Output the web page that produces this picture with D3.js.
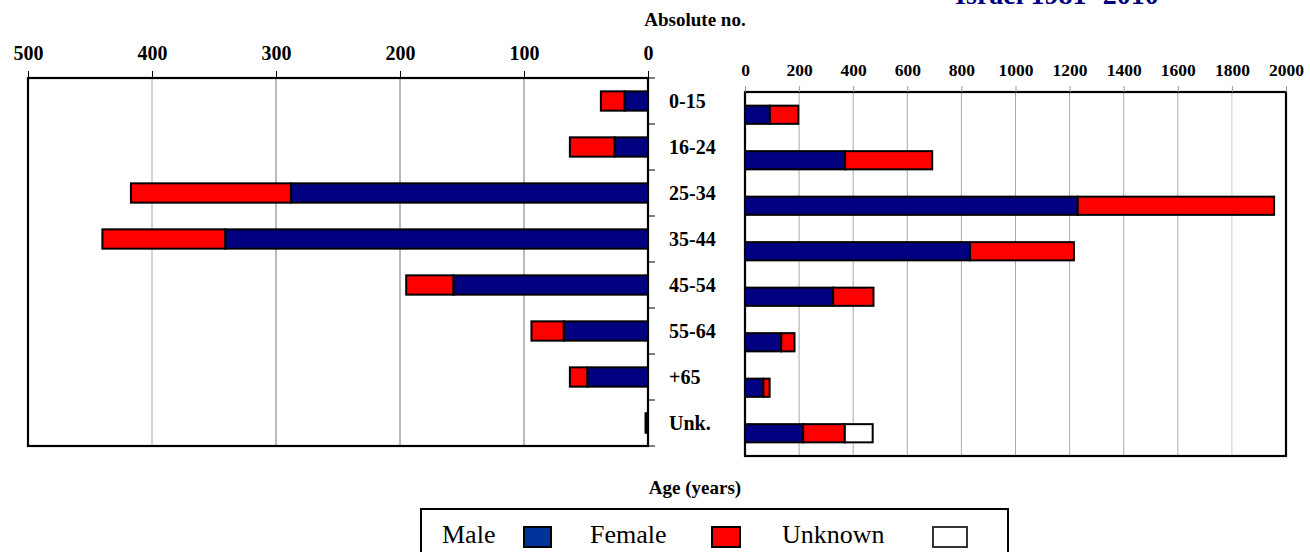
<!DOCTYPE html>
<html>
<head>
<meta charset="utf-8">
<script src="https://cdn.jsdelivr.net/npm/d3@7"></script>
<style>
  body { margin: 0; background: #fff; }
  svg { display: block; font-family: "Times New Roman", "Liberation Serif", serif; }
  .tick text { font-weight: bold; fill: #000; font-family: "Times New Roman", "Liberation Serif", serif; }
  .domain { display: none; }
</style>
</head>
<body>
<svg id="chart" width="1310" height="552"></svg>
<script>
// age groups (shared by both panels)
var ages = ["0-15", "16-24", "25-34", "35-44", "45-54", "55-64", "+65", "Unk."];

// left panel (no unknown-sex cases)
var leftMale   = [19, 27, 288, 341, 157, 68, 49, 1];
var leftFemale = [19, 36, 129,  99,  38, 26, 14, 1];

// right panel
var rightMale    = [92, 370, 1230, 832, 326, 134, 68, 215];
var rightFemale  = [105, 322, 726, 384, 149, 49, 23, 154];
var rightUnknown = [0, 0, 0, 0, 0, 0, 0, 103];

var leftTicks  = [0, 100, 200, 300, 400, 500];
var rightTicks = [0, 200, 400, 600, 800, 1000, 1200, 1400, 1600, 1800, 2000];

var sexKeys = ["Male", "Female", "Unknown"];
var barColors = { Male: "#000080", Female: "#ff0000", Unknown: "#ffffff" };
var legendColors = { Male: "#003399", Female: "#ff0000", Unknown: "#ffffff" };

var svg = d3.select("#chart");

// ---------- left panel ----------
var leftRows = ages.map(function(a, i) { return { age: a, Male: leftMale[i], Female: leftFemale[i] }; });
var leftStack = d3.stack().keys(["Male", "Female"])(leftRows);

var xL = d3.scaleLinear().domain([0, 500]).range([648, 28]);
var yL = d3.scaleBand().domain(ages).range([78, 446]).paddingInner(0.58).paddingOuter(0.29);

var gL = svg.append("g");

// grid
gL.selectAll("line.grid")
  .data(leftTicks.slice(1, -1))
  .enter().append("line")
    .attr("class", "grid")
    .attr("x1", function(d) { return xL(d); })
    .attr("x2", function(d) { return xL(d); })
    .attr("y1", yL.range()[0])
    .attr("y2", yL.range()[1])
    .attr("stroke", function(d) { return d == 400 ? "#aaa" : "#777"; })
    .attr("stroke-width", 1);

// frame
gL.append("rect")
  .attr("x", xL(500)).attr("y", yL.range()[0])
  .attr("width", xL(0) - xL(500)).attr("height", yL.range()[1] - yL.range()[0])
  .attr("fill", "none").attr("stroke", "#000").attr("stroke-width", 2.2);

// category ticks on the right side of the left frame
var bounds = d3.range(ages.length + 1).map(function(i) { return yL.range()[0] + i * yL.step(); });
gL.selectAll("line.ctick")
  .data(bounds)
  .enter().append("line")
    .attr("x1", xL(0)).attr("x2", xL(0) + 7)
    .attr("y1", function(d) { return d; }).attr("y2", function(d) { return d; })
    .attr("stroke", "#000").attr("stroke-width", 1);

gL.append("g")
  .attr("transform", "translate(0," + yL.range()[0] + ")")
  .call(d3.axisTop(xL).tickValues(leftTicks).tickSize(7).tickPadding(11).tickFormat(d3.format("d")))
  .call(function(g) {
    g.attr("font-family", null);
    g.selectAll(".tick line").attr("stroke", "#000");
    g.selectAll(".tick text").style("font-size", "20px");
  });

gL.selectAll("g.layer")
  .data(leftStack)
  .enter().append("g")
    .attr("class", "layer")
    .attr("fill", function(d) { return barColors[d.key]; })
  .selectAll("rect")
  .data(function(d) { return d; })
  .enter().append("rect")
    .attr("x", function(d) { return xL(d[1]); })
    .attr("y", function(d) { return yL(d.data.age); })
    .attr("width", function(d) { return xL(d[0]) - xL(d[1]); })
    .attr("height", yL.bandwidth())
    .attr("stroke", "#000")
    .attr("stroke-width", 2);

// ---------- right panel ----------
var rightRows = ages.map(function(a, i) {
  return { age: a, Male: rightMale[i], Female: rightFemale[i], Unknown: rightUnknown[i] };
});
var rightStack = d3.stack().keys(sexKeys)(rightRows);

var xR = d3.scaleLinear().domain([0, 2000]).range([745, 1286]);
var yR = d3.scaleBand().domain(ages).range([92, 456]).paddingInner(0.6).paddingOuter(0.3);

var gR = svg.append("g");

gR.selectAll("line.grid")
  .data(rightTicks.slice(1, -1))
  .enter().append("line")
    .attr("x1", function(d) { return xR(d); })
    .attr("x2", function(d) { return xR(d); })
    .attr("y1", yR.range()[0])
    .attr("y2", yR.range()[1])
    .attr("stroke", function(d) { return d == 1800 ? "#ccc" : "#aaa"; })
    .attr("stroke-width", 1);

gR.append("rect")
  .attr("x", xR(0)).attr("y", yR.range()[0])
  .attr("width", xR(2000) - xR(0)).attr("height", yR.range()[1] - yR.range()[0])
  .attr("fill", "none").attr("stroke", "#000").attr("stroke-width", 2.2);

gR.append("g")
  .attr("transform", "translate(0," + yR.range()[0] + ")")
  .call(d3.axisTop(xR).tickValues(rightTicks).tickSize(6).tickPadding(10).tickFormat(d3.format("d")))
  .call(function(g) {
    g.attr("font-family", null);
    g.selectAll(".tick line").attr("stroke", "#999");
    g.selectAll(".tick text").style("font-size", "17.5px");
  });

gR.selectAll("g.layer")
  .data(rightStack)
  .enter().append("g")
    .attr("class", "layer")
    .attr("fill", function(d) { return barColors[d.key]; })
  .selectAll("rect")
  .data(function(d) { return d.filter(function(e) { return e[1] > e[0]; }); })
  .enter().append("rect")
    .attr("x", function(d) { return xR(d[0]); })
    .attr("y", function(d) { return yR(d.data.age); })
    .attr("width", function(d) { return xR(d[1]) - xR(d[0]); })
    .attr("height", yR.bandwidth())
    .attr("stroke", "#000")
    .attr("stroke-width", 2);

// ---------- category labels ----------
svg.append("g").selectAll("text")
  .data(ages)
  .enter().append("text")
    .attr("x", 669)
    .attr("y", function(d) { return yL(d) + yL.bandwidth() / 2; })
    .attr("dy", "0.35em")
    .style("font-size", "20px")
    .style("font-weight", "bold")
    .text(function(d) { return d; });

// ---------- titles ----------
svg.append("text")
  .attr("x", 1057).attr("y", 3.5)
  .attr("text-anchor", "middle")
  .style("font-size", "28px").style("font-weight", "bold")
  .attr("fill", "#000080")
  .text("Israel 1981- 2010");

svg.append("text")
  .attr("x", 695).attr("y", 26)
  .attr("text-anchor", "middle")
  .style("font-size", "19px").style("font-weight", "bold")
  .text("Absolute no.");

svg.append("text")
  .attr("x", 695).attr("y", 494)
  .attr("text-anchor", "middle")
  .style("font-size", "19px").style("font-weight", "bold")
  .text("Age (years)");

// ---------- legend ----------
var legend = svg.append("g");
legend.append("rect")
  .attr("x", 421).attr("y", 509)
  .attr("width", 587).attr("height", 60)
  .attr("fill", "#fff").attr("stroke", "#000").attr("stroke-width", 2);

var legendItems = [
  { key: "Male",    tx: 442, sx: 524, sw: 27 },
  { key: "Female",  tx: 590, sx: 712, sw: 28 },
  { key: "Unknown", tx: 782, sx: 933, sw: 34 }
];
var li = legend.selectAll("g.item")
  .data(legendItems)
  .enter().append("g").attr("class", "item");
li.append("text")
  .attr("x", function(d) { return d.tx; })
  .attr("y", 543)
  .style("font-size", "26px")
  .text(function(d) { return d.key; });
li.append("rect")
  .attr("x", function(d) { return d.sx; })
  .attr("y", 527)
  .attr("width", function(d) { return d.sw; })
  .attr("height", 20)
  .attr("fill", function(d) { return legendColors[d.key]; })
  .attr("stroke", function(d) { return d.key == "Unknown" ? "#333" : "#000"; })
  .attr("stroke-width", 2);
</script>
</body>
</html>
